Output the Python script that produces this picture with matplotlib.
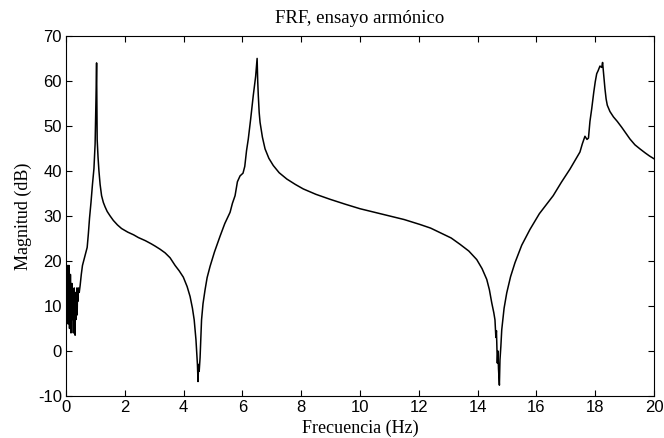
import matplotlib
matplotlib.use("Agg")
import matplotlib.pyplot as plt

# Frequency response magnitude from the harmonic test
freq_hz = [
    0.00, 0.01, 0.02, 0.03, 0.04, 0.05, 0.06, 0.07, 0.08, 0.09,
    0.10, 0.11, 0.12, 0.13, 0.14, 0.15, 0.16, 0.17, 0.18, 0.19,
    0.20, 0.21, 0.22, 0.23, 0.24, 0.25, 0.26, 0.27, 0.28, 0.29,
    0.30, 0.31, 0.32, 0.33, 0.34, 0.35, 0.36, 0.37, 0.38, 0.39,
    0.40, 0.42, 0.45, 0.48, 0.52, 0.56, 0.62, 0.68, 0.72, 0.76,
    0.80, 0.85, 0.90, 0.95, 0.99, 1.02, 1.04, 1.06, 1.09, 1.12,
    1.16, 1.21, 1.27, 1.33, 1.40, 1.50, 1.61, 1.75, 1.89, 2.10,
    2.30, 2.46, 2.70, 2.90, 3.03, 3.20, 3.37, 3.54, 3.71, 3.85,
    3.99, 4.12, 4.22, 4.30, 4.36, 4.42, 4.45, 4.47, 4.49, 4.51,
    4.53, 4.56, 4.58, 4.61, 4.66, 4.73, 4.80, 4.90, 5.05, 5.24,
    5.40, 5.58, 5.66, 5.75, 5.83, 5.92, 6.02, 6.08, 6.14, 6.20,
    6.28, 6.37, 6.45, 6.50, 6.52, 6.54, 6.57, 6.60, 6.68, 6.77,
    6.90, 7.05, 7.25, 7.51, 7.80, 8.07, 8.50, 8.98, 9.50, 10.00,
    10.50, 11.00, 11.50, 12.04, 12.40, 12.72, 13.10, 13.40, 13.70, 13.97,
    14.15, 14.31, 14.40, 14.48, 14.55, 14.59, 14.62, 14.64, 14.67, 14.69,
    14.71, 14.74, 14.76, 14.79, 14.82, 14.90, 14.99, 15.12, 15.27, 15.50,
    15.78, 16.10, 16.57, 16.85, 17.14, 17.30, 17.48, 17.56, 17.65, 17.72,
    17.77, 17.82, 17.88, 17.95, 18.00, 18.05, 18.10, 18.16, 18.22, 18.25,
    18.28, 18.33, 18.37, 18.41, 18.50, 18.62, 18.75, 18.90, 19.05, 19.18,
    19.35, 19.52, 19.70, 19.85, 20.00,
]
magnitude_db = [
    30.0, 17.0, 12.0, 18.0, 8.0, 15.0, 19.0, 6.0, 13.0, 9.0,
    19.0, 10.0, 5.0, 14.0, 8.0, 17.0, 11.0, 4.0, 12.0, 8.0,
    15.0, 9.0, 13.0, 7.0, 11.0, 4.0, 13.0, 8.0, 14.0, 6.0,
    12.0, 3.5, 10.0, 13.0, 7.0, 12.0, 9.0, 14.0, 8.0, 13.0,
    11.0, 14.0, 13.0, 14.5, 17.0, 19.0, 20.5, 22.0, 23.0, 26.0,
    29.5, 33.0, 37.0, 40.5, 46.0, 56.0, 64.0, 47.0, 43.0, 40.0,
    37.0, 34.5, 33.0, 32.0, 31.0, 30.0, 29.0, 28.0, 27.2, 26.4,
    25.8, 25.2, 24.5, 23.8, 23.3, 22.6, 21.8, 20.7, 19.0, 17.8,
    16.4, 14.3, 12.1, 9.5, 6.9, 2.5, -1.0, -3.0, -6.8, -3.0,
    -4.5, -1.5, 2.0, 6.9, 10.5, 13.6, 16.3, 18.8, 22.0, 25.5,
    28.3, 30.8, 32.8, 34.5, 37.6, 38.9, 39.5, 41.0, 44.5, 47.1,
    51.5, 56.8, 61.0, 65.0, 60.0, 56.8, 53.0, 50.8, 47.5, 44.9,
    42.8, 41.2, 39.6, 38.2, 37.0, 36.0, 34.8, 33.7, 32.6, 31.6,
    30.8, 30.0, 29.2, 28.1, 27.3, 26.3, 25.1, 23.7, 22.2, 20.3,
    18.3, 15.9, 13.6, 10.7, 8.5, 6.9, 3.0, 4.5, -2.7, 0.0,
    -4.0, -7.6, -2.0, 1.0, 4.7, 9.5, 12.9, 16.5, 19.6, 23.5,
    27.0, 30.5, 34.5, 37.5, 40.4, 42.2, 44.2, 46.0, 47.7, 47.0,
    47.3, 51.0, 53.8, 57.5, 59.8, 61.6, 62.3, 63.3, 63.0, 64.1,
    62.0, 58.3, 56.0, 54.6, 53.2, 52.0, 51.0, 49.7, 48.3, 47.1,
    45.8, 44.9, 44.0, 43.3, 42.7,
]

x_ticks = [0, 2, 4, 6, 8, 10, 12, 14, 16, 18, 20]
y_ticks = [-10, 0, 10, 20, 30, 40, 50, 60, 70]

title_text = "FRF, ensayo armónico"
x_label = "Frecuencia (Hz)"
y_label = "Magnitud (dB)"

serif = ["Liberation Serif", "DejaVu Serif"]
sans = ["Liberation Sans", "DejaVu Sans"]

plt.rcParams["axes.unicode_minus"] = False

fig = plt.figure(figsize=(6.64, 4.38), dpi=100)
ax = fig.add_axes([0.0994, 0.096, 0.8856, 0.822])

ax.plot(freq_hz, magnitude_db, color="black", linewidth=1.1)

ax.set_xlim(0, 20)
ax.set_ylim(-10, 70)
ax.set_xticks(x_ticks)
ax.set_yticks(y_ticks)
ax.tick_params(direction="in", top=True, right=True, length=4, width=0.8,
               labelsize=12, pad=3)
for lbl in ax.get_xticklabels() + ax.get_yticklabels():
    lbl.set_family(sans)
for spine in ax.spines.values():
    spine.set_linewidth(0.8)

ax.set_title(title_text, family=serif, fontsize=13.5, pad=9)
ax.set_xlabel(x_label, family=serif, fontsize=13, labelpad=3)
ax.set_ylabel(y_label, family=serif, fontsize=13, labelpad=4)

fig.savefig("out.png", dpi=100)
